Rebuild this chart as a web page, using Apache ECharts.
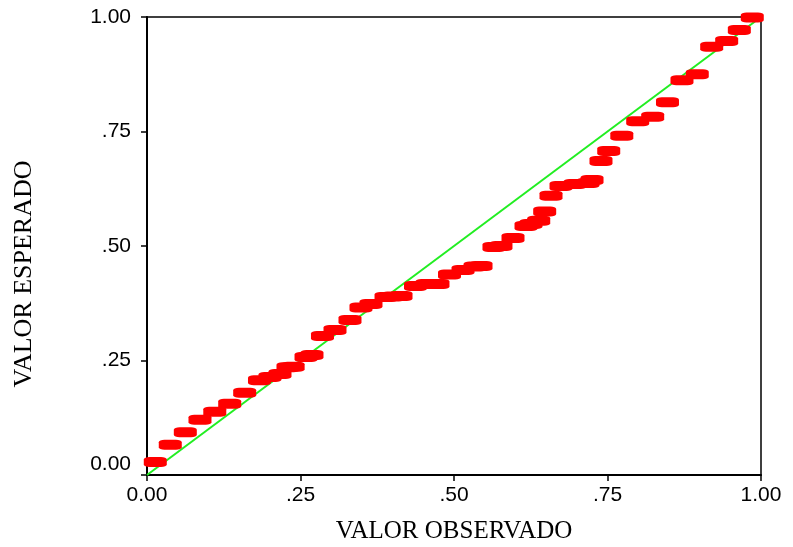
<!DOCTYPE html>
<html>
<head>
<meta charset="utf-8">
<script src="https://cdn.jsdelivr.net/npm/echarts@6/dist/echarts.min.js"></script>
<style>
  html, body { margin: 0; padding: 0; background: #fff; }
  #main { width: 793px; height: 547px; }
</style>
</head>
<body>
<div id="main"></div>
<script>
// observed cumulative probability (x) vs expected (y)
const observed = [
  0.0135, 0.0379, 0.0624, 0.0863, 0.1104, 0.1347, 0.1591, 0.1832, 0.2003, 0.2166,
  0.2296, 0.2380, 0.2590, 0.2687, 0.2858, 0.3062, 0.3306, 0.3485, 0.3648, 0.3893,
  0.4007, 0.4137, 0.4373, 0.4560, 0.4739, 0.4927, 0.5147, 0.5342, 0.5440, 0.5651,
  0.5765, 0.5961, 0.6173, 0.6254, 0.6380, 0.6477, 0.6580, 0.6743, 0.6971, 0.7182,
  0.7248, 0.7394, 0.7520, 0.7733, 0.7992, 0.8236, 0.8477, 0.8713, 0.8962, 0.9197,
  0.9441, 0.9647, 0.9858
];
const expected = [
  0.0284, 0.0662, 0.0934, 0.1207, 0.1382, 0.1557, 0.1797, 0.2068, 0.2140, 0.2205,
  0.2352, 0.2365, 0.2576, 0.2620, 0.3035, 0.3166, 0.3384, 0.3657, 0.3734, 0.3886,
  0.3897, 0.3908, 0.4127, 0.4170, 0.4170, 0.4378, 0.4476, 0.4552, 0.4563, 0.4978,
  0.5000, 0.5175, 0.5437, 0.5480, 0.5550, 0.5753, 0.6096, 0.6310, 0.6354, 0.6376,
  0.6441, 0.6856, 0.7074, 0.7406, 0.7723, 0.7823, 0.8138, 0.8618, 0.8751, 0.9352,
  0.9476, 0.9716, 0.9989
];
const tickValues = [0, 0.25, 0.5, 0.75, 1];
const diagonal = [[0, 0], [1, 1]];

const points = observed.map((x, i) => [x, expected[i]]);

function fmt(v) {
  if (v === 0 || v === 1) return v.toFixed(2);
  return v.toFixed(2).replace(/^0/, '');
}

var chart = echarts.init(document.getElementById('main'), undefined, {renderer: 'canvas'});
chart.setOption({
  animation: false,
  backgroundColor: '#fff',
  grid: {
    left: 147, right: 32, top: 17, bottom: 72,
    outerBoundsMode: 'none',
    show: true, borderColor: '#000', borderWidth: 1.5
  },
  xAxis: {
    type: 'value', min: 0, max: 1, interval: 0.25,
    name: 'VALOR OBSERVADO', nameLocation: 'middle', nameGap: 44,
    nameTextStyle: { fontFamily: 'Liberation Serif', fontSize: 25, color: '#000' },
    axisLine: { show: true, lineStyle: { color: '#000', width: 2 } },
    axisTick: { show: true, length: 6, lineStyle: { color: '#000', width: 1.5 } },
    axisLabel: {
      fontFamily: 'Liberation Sans', fontSize: 21, color: '#000', margin: 10,
      formatter: fmt
    },
    splitLine: { show: false }
  },
  yAxis: {
    type: 'value', min: 0, max: 1, interval: 0.25,
    name: 'VALOR ESPERADO', nameLocation: 'middle', nameGap: 110,
    nameTextStyle: {
      fontFamily: 'Liberation Serif', fontSize: 26, color: '#000',
      padding: [0, 56, 0, 0]
    },
    axisLine: { show: true, lineStyle: { color: '#000', width: 2 } },
    axisTick: { show: true, length: 6, lineStyle: { color: '#000', width: 1.5 } },
    axisLabel: {
      fontFamily: 'Liberation Sans', fontSize: 21, color: '#000', margin: 16,
      formatter: function (v) {
        return v === 0 ? '{z|0.00}' : fmt(v);
      },
      rich: { z: { fontFamily: 'Liberation Sans', fontSize: 21, color: '#000', padding: [0, 0, 22, 0] } }
    },
    splitLine: { show: false }
  },
  series: [
    {
      type: 'line',
      data: diagonal,
      symbol: 'none',
      lineStyle: { color: '#22ee22', width: 2 },
      z: 1
    },
    {
      type: 'scatter',
      data: points,
      symbol: 'roundRect',
      symbolSize: [23, 10],
      itemStyle: { color: '#ff0000', opacity: 1 },
      z: 2
    }
  ]
});
</script>
</body>
</html>
